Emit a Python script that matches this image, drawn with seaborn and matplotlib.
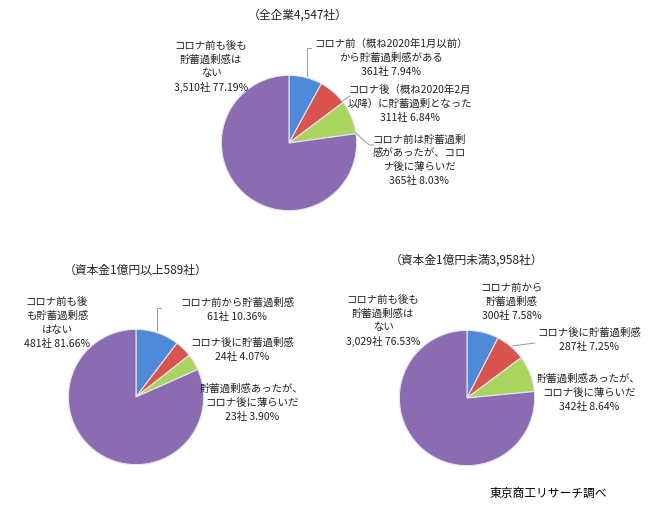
import matplotlib
matplotlib.use("Agg")
import seaborn as sns
from matplotlib import pyplot as plt
from matplotlib.lines import Line2D

# data
all_counts = [361, 311, 365, 3510]
large_counts = [61, 24, 23, 481]
small_counts = [300, 287, 342, 3029]

all_title = "（全企業4,547社）"
large_title = "（資本金1億円以上589社）"
small_title = "（資本金1億円未満3,958社）"

all_labels = [
    "コロナ前（概ね2020年1月以前）\nから貯蓄過剰感がある\n361社 7.94%",
    "コロナ後（概ね2020年2月\n以降）に貯蓄過剰となった\n311社 6.84%",
    "コロナ前は貯蓄過剰\n感があったが、コロ\nナ後に薄らいだ\n365社 8.03%",
    "コロナ前も後も\n貯蓄過剰感は\nない\n3,510社 77.19%",
]
large_labels = [
    "コロナ前から貯蓄過剰感\n61社 10.36%",
    "コロナ後に貯蓄過剰感\n24社 4.07%",
    "貯蓄過剰感あったが、\nコロナ後に薄らいだ\n23社 3.90%",
    "コロナ前も後\nも貯蓄過剰感\nはない\n481社 81.66%",
]
small_labels = [
    "コロナ前から\n貯蓄過剰感\n300社 7.58%",
    "コロナ後に貯蓄過剰感\n287社 7.25%",
    "貯蓄過剰感あったが、\nコロナ後に薄らいだ\n342社 8.64%",
    "コロナ前も後も\n貯蓄過剰感は\nない\n3,029社 76.53%",
]
source = "東京商工リサーチ調べ"

colors = ["#4f8ad8", "#d9534f", "#a9d45d", "#8b6bb1"]

sns.set_theme(style="white")
plt.rcParams["font.family"] = ["Noto Sans CJK JP", "DejaVu Sans"]

W, H = 652, 515
fig = plt.figure(figsize=(W / 100, H / 100), dpi=100)
fig.patch.set_facecolor("white")


def px(x, y):
    return x / W, 1 - y / H


def draw_pie(counts, cx, cy, r):
    ax = fig.add_axes([(cx - r) / W, (H - cy - r) / H, 2 * r / W, 2 * r / H])
    ax.pie(
        counts,
        colors=colors,
        startangle=90,
        counterclock=False,
        wedgeprops={"edgecolor": "#e6e6f0", "linewidth": 0.8},
    )
    ax.set_xlim(-1.02, 1.02)
    ax.set_ylim(-1.02, 1.02)
    ax.set_axis_off()


def label(text, x, y, size=7.5):
    fig.text(*px(x, y), text, ha="center", va="center", fontsize=size,
             linespacing=1.45, color="#222222")


def leader(points):
    xs = [p[0] / W for p in points]
    ys = [1 - p[1] / H for p in points]
    fig.add_artist(Line2D(xs, ys, transform=fig.transFigure, color="#999999", linewidth=0.7))


draw_pie(all_counts, 289, 143, 69)
draw_pie(large_counts, 136, 397, 69)
draw_pie(small_counts, 467, 398, 69)

label(all_title, 298, 15, 8.5)
label(large_title, 136, 270, 8.5)
label(small_title, 467, 260, 8.5)

top_pos = [(391, 58), (410, 104), (419, 160), (211, 67)]
left_pos = [(237, 310), (242, 350), (252, 403), (57, 323)]
right_pos = [(512, 302), (589, 340), (589, 393), (383, 321)]
for labels, pos in [(all_labels, top_pos), (large_labels, left_pos), (small_labels, right_pos)]:
    for text, (x, y) in zip(labels, pos):
        label(text, x, y)

leader([(311, 48), (307, 48), (307, 76)])
leader([(341, 102), (350, 96)])
leader([(356, 133), (369, 145), (374, 145)])
leader([(161, 308), (157, 308), (157, 330)])
leader([(512, 346), (535, 343)])

fig.text(*px(548, 493), source, ha="center", va="center", fontsize=8.5, color="black")

fig.savefig("out.png", dpi=100)
